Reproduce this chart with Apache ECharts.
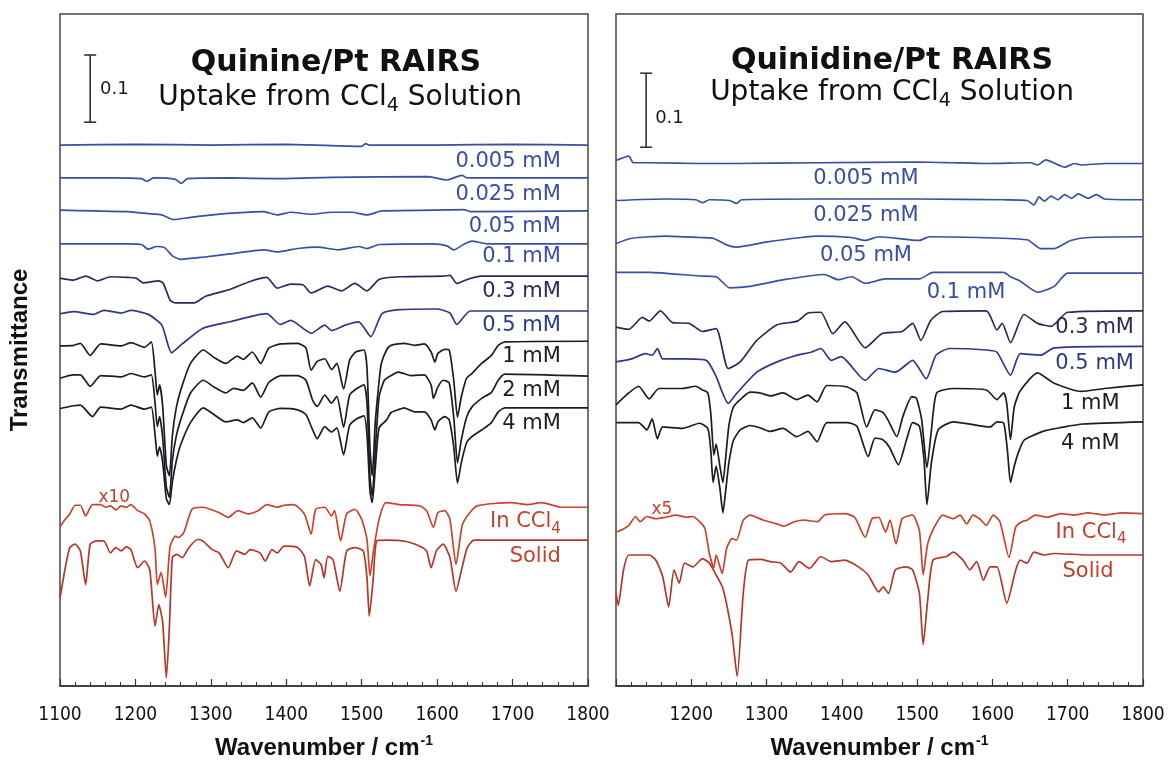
<!DOCTYPE html>
<html>
<head>
<meta charset="utf-8">
<script src="https://cdn.jsdelivr.net/npm/echarts@6/dist/echarts.min.js"></script>
<style>
html, body { margin: 0; background: #fff; }
#chart { width: 1173px; height: 767px; }
</style>
</head>
<body>
<div id="chart"></div>
<script>
// spectra as [wavenumber, change from the trace baseline] in 0.001 transmittance units
// quinine panel (left)
var qn005 = [[1100,0],[1200,1],[1300,0],[1400,1],[1500,-2],[1505,2],[1510,0],[1600,0],[1700,1],[1800,0]];
var qn025 = [[1100,0],[1167,0],[1208,-1],[1215,-5],[1224,0],[1253,-2],[1261,-8],[1269,-1],[1325,0],[1388,-1],[1460,1],[1588,2],[1613,-3],[1633,4],[1640,0],[1800,0]];
var qn050 = [[1100,1],[1145,0],[1190,-1],[1217,-4],[1235,-6],[1251,-13],[1271,-10],[1302,-6],[1334,-3],[1370,-1],[1388,-6],[1406,-2],[1433,-5],[1460,-2],[1487,-2],[1507,-6],[1527,0],[1595,1],[1635,2],[1644,-1],[1800,0]];
var qn100 = [[1100,0],[1190,0],[1208,-1],[1217,-8],[1228,-4],[1239,-6],[1249,-18],[1260,-23],[1289,-20],[1325,-15],[1370,-9],[1388,-12],[1415,-7],[1442,-5],[1469,-9],[1496,-4],[1507,-7],[1523,-1],[1595,0],[1613,-3],[1622,-9],[1635,-1],[1646,4],[1667,0],[1800,0]];
var qn300 = [[1100,-3],[1118,-6],[1134,0],[1150,-7],[1167,-1],[1190,-2],[1201,-3],[1210,-10],[1231,-7],[1237,-11],[1246,-36],[1253,-40],[1278,-40],[1293,-30],[1325,-20],[1352,-8],[1374,-2],[1388,-18],[1406,-12],[1422,-13],[1433,-25],[1455,-15],[1473,-22],[1491,-11],[1507,-22],[1523,-5],[1550,-1],[1608,0],[1617,1],[1626,-11],[1640,-5],[1658,0],[1800,0]];
var qn500 = [[1100,-4],[1118,-1],[1145,-5],[1158,1],[1181,-3],[1194,1],[1217,-5],[1235,-21],[1248,-62],[1262,-49],[1289,-26],[1325,-16],[1374,-4],[1392,-20],[1406,-14],[1433,-33],[1451,-21],[1460,-29],[1478,-21],[1496,-16],[1512,-38],[1527,-4],[1550,2],[1600,3],[1617,-3],[1626,-20],[1644,0],[1800,0]];
var qn1mM = [[1100,-7],[1118,-6],[1127,-3],[1140,-21],[1154,-4],[1181,-7],[1194,-2],[1212,-9],[1221,-1],[1226,-45],[1229,-80],[1232,-65],[1236,-95],[1241,-185],[1245,-200],[1249,-140],[1254,-100],[1260,-73],[1273,-33],[1290,-13],[1304,-24],[1320,-33],[1335,-22],[1343,-27],[1355,-16],[1366,-33],[1377,-10],[1393,-4],[1415,-3],[1426,-10],[1433,-43],[1441,-30],[1451,-26],[1460,-42],[1467,-33],[1476,-71],[1484,-28],[1492,-16],[1503,-13],[1507,-40],[1511,-160],[1514,-200],[1518,-120],[1523,-60],[1526,-33],[1533,-13],[1539,-6],[1548,-4],[1556,-3],[1570,-6],[1583,-4],[1592,-16],[1597,-31],[1601,-18],[1610,-12],[1616,-13],[1622,-58],[1627,-113],[1632,-83],[1639,-55],[1646,-48],[1659,-33],[1672,-21],[1681,-6],[1690,-1],[1800,0]];
var qn2mM = [[1100,-3],[1118,2],[1127,2],[1140,-15],[1154,1],[1181,-1],[1194,4],[1212,-1],[1221,2],[1226,-40],[1229,-75],[1232,-60],[1236,-90],[1241,-165],[1245,-180],[1249,-125],[1254,-90],[1260,-65],[1273,-25],[1290,-6],[1304,-16],[1320,-25],[1330,-18],[1343,-21],[1355,-10],[1366,-31],[1377,-9],[1393,1],[1415,1],[1426,-6],[1435,-36],[1441,-45],[1451,-28],[1460,-40],[1467,-30],[1476,-76],[1484,-28],[1494,-18],[1503,-13],[1507,-40],[1511,-150],[1514,-178],[1518,-110],[1523,-31],[1530,-6],[1539,1],[1548,6],[1556,4],[1565,1],[1583,2],[1592,-13],[1595,-33],[1601,-16],[1608,-6],[1616,-10],[1622,-61],[1627,-129],[1632,-95],[1639,-61],[1646,-46],[1659,-33],[1672,-24],[1681,-6],[1690,3],[1800,0]];
var qn4mM = [[1100,-1],[1118,3],[1127,4],[1143,-13],[1154,1],[1181,-2],[1194,4],[1212,-2],[1221,1],[1226,-40],[1229,-72],[1232,-58],[1236,-80],[1241,-135],[1245,-144],[1249,-110],[1254,-80],[1260,-55],[1273,-22],[1290,0],[1304,-10],[1320,-21],[1335,-18],[1343,-22],[1355,-15],[1366,-30],[1377,-6],[1393,-1],[1415,-3],[1426,-10],[1435,-33],[1441,-46],[1451,-28],[1460,-36],[1467,-30],[1476,-70],[1484,-26],[1494,-16],[1503,-12],[1507,-40],[1511,-125],[1514,-141],[1518,-90],[1523,-30],[1533,-18],[1539,-7],[1548,-3],[1556,0],[1570,-6],[1583,-6],[1592,-18],[1597,-33],[1601,-21],[1610,-13],[1616,-18],[1622,-58],[1627,-112],[1632,-82],[1639,-52],[1646,-43],[1659,-33],[1672,-22],[1681,-6],[1690,0],[1800,0]];
var qnCCl4 = [[1100,-29],[1107,-18],[1113,-10],[1120,3],[1127,3],[1134,-13],[1143,4],[1154,4],[1161,0],[1167,2],[1174,-4],[1181,2],[1188,0],[1194,4],[1203,-5],[1212,-10],[1219,-20],[1226,-62],[1229,-115],[1234,-97],[1240,-134],[1246,-58],[1253,-43],[1257,-45],[1264,-38],[1275,-3],[1289,0],[1311,-8],[1323,-15],[1336,-5],[1350,-10],[1363,-5],[1374,4],[1388,0],[1397,3],[1410,4],[1424,-10],[1433,-40],[1439,-3],[1451,0],[1460,-13],[1464,-5],[1472,-50],[1480,-10],[1491,-3],[1500,-18],[1507,-48],[1511,-102],[1516,-62],[1523,-18],[1532,7],[1550,4],[1577,2],[1586,-5],[1595,-30],[1601,-8],[1610,-5],[1617,-18],[1625,-85],[1633,-28],[1640,-13],[1653,2],[1698,7],[1720,4],[1738,7],[1765,0],[1800,0]];
var qnSolid = [[1100,-86],[1107,-41],[1113,-11],[1120,-6],[1127,-16],[1134,-66],[1140,-6],[1149,-1],[1158,-1],[1167,-19],[1174,-11],[1181,-16],[1188,-10],[1194,-14],[1203,-41],[1212,-31],[1219,-44],[1226,-128],[1231,-96],[1236,-121],[1241,-205],[1245,-130],[1249,-26],[1255,-21],[1262,-26],[1271,-11],[1282,1],[1289,-1],[1302,-14],[1311,-19],[1323,-41],[1334,-16],[1345,-21],[1352,-14],[1365,-19],[1372,-31],[1381,-14],[1388,-19],[1397,-9],[1415,-11],[1424,-24],[1431,-68],[1439,-29],[1446,-36],[1450,-56],[1455,-24],[1462,-29],[1471,-76],[1480,-16],[1491,-11],[1502,-16],[1507,-56],[1510,-113],[1515,-61],[1520,-1],[1532,0],[1559,-2],[1577,-9],[1586,-16],[1592,-41],[1599,-16],[1608,-6],[1617,-26],[1625,-76],[1633,-41],[1640,-11],[1649,0],[1800,0]];

// quinidine panel (right)
var qd005 = [[1100,4],[1117,10],[1123,1],[1144,1],[1211,0],[1256,0],[1368,1],[1503,2],[1548,1],[1592,0],[1651,1],[1660,-2],[1671,5],[1696,-5],[1709,0],[1718,-2],[1750,0],[1800,0]];
var qd025 = [[1100,-1],[1166,1],[1206,0],[1215,-4],[1224,0],[1251,-1],[1260,-5],[1267,0],[1368,1],[1503,1],[1615,0],[1646,-1],[1655,-7],[1662,4],[1669,-2],[1678,5],[1687,0],[1696,7],[1705,2],[1714,8],[1727,2],[1738,7],[1749,1],[1800,0]];
var qd050 = [[1100,-9],[1121,-2],[1166,1],[1211,-1],[1229,-2],[1247,-11],[1260,-14],[1301,-7],[1346,-1],[1368,1],[1413,-1],[1431,-5],[1449,0],[1503,-5],[1516,0],[1646,-4],[1664,-16],[1682,-16],[1704,-5],[1727,-1],[1800,0]];
var qd100 = [[1100,1],[1144,1],[1211,-4],[1233,-5],[1251,-20],[1278,-18],[1323,-9],[1377,-2],[1395,-9],[1413,-5],[1431,-14],[1458,-8],[1503,-8],[1521,1],[1615,1],[1624,-5],[1637,-11],[1660,-26],[1682,-18],[1700,0],[1800,0]];
var qd300 = [[1100,-22],[1117,-25],[1135,-9],[1144,-14],[1159,0],[1175,-16],[1197,-17],[1215,-28],[1233,-24],[1249,-78],[1265,-69],[1287,-40],[1314,-19],[1341,-14],[1355,-3],[1372,-2],[1388,-31],[1404,-15],[1431,-50],[1453,-31],[1480,-28],[1494,-17],[1505,-40],[1518,-13],[1534,-1],[1592,0],[1606,-26],[1613,-17],[1624,-43],[1642,-5],[1660,-17],[1678,-21],[1700,-2],[1800,0]];
var qd500 = [[1100,-21],[1121,-17],[1139,-10],[1148,-12],[1155,-3],[1162,-17],[1188,-17],[1220,-19],[1233,-41],[1249,-77],[1260,-64],[1287,-35],[1314,-21],[1341,-12],[1359,-8],[1372,-3],[1386,-19],[1399,-14],[1431,-46],[1449,-30],[1471,-35],[1494,-19],[1512,-44],[1525,-12],[1543,-3],[1592,-5],[1606,-8],[1624,-39],[1637,-10],[1664,-12],[1682,-2],[1800,0]];
var qd1mM = [[1100,-27],[1117,-11],[1130,-2],[1144,-19],[1157,-5],[1188,-5],[1206,-2],[1215,-7],[1222,-11],[1226,-40],[1230,-95],[1233,-80],[1238,-110],[1242,-132],[1246,-95],[1250,-55],[1256,-30],[1265,-20],[1278,-10],[1291,-11],[1305,-15],[1322,-11],[1340,-20],[1355,-14],[1367,-23],[1380,-1],[1407,-3],[1420,-11],[1433,-57],[1444,-34],[1454,-37],[1461,-47],[1473,-70],[1481,-43],[1493,-16],[1499,-18],[1506,-47],[1513,-112],[1519,-61],[1526,-11],[1548,-5],[1592,-7],[1606,-20],[1615,-11],[1619,-25],[1624,-74],[1629,-30],[1637,-8],[1660,16],[1682,2],[1718,-9],[1749,-5],[1800,0]];
var qd4mM = [[1100,-1],[1130,-1],[1141,-11],[1148,4],[1155,-23],[1162,-7],[1188,-9],[1211,-2],[1222,-9],[1226,-40],[1229,-82],[1233,-60],[1238,-90],[1242,-123],[1246,-90],[1250,-55],[1256,-25],[1265,-11],[1278,-5],[1291,-8],[1304,-13],[1322,-9],[1340,-20],[1355,-13],[1367,-27],[1380,-1],[1407,-1],[1420,-6],[1435,-47],[1444,-22],[1454,-24],[1463,-34],[1475,-58],[1486,-24],[1494,-1],[1503,-6],[1509,-50],[1513,-112],[1519,-55],[1528,-11],[1548,0],[1597,-7],[1606,0],[1615,-2],[1620,-40],[1624,-82],[1629,-60],[1635,-40],[1642,-25],[1655,-18],[1670,-12],[1690,-8],[1720,-3],[1800,0]];
var qdCCl4 = [[1100,-25],[1108,-22],[1117,-16],[1126,-4],[1132,-11],[1141,-4],[1153,-7],[1166,-5],[1180,-2],[1193,-5],[1202,-4],[1211,-11],[1218,-20],[1224,-54],[1230,-73],[1233,-56],[1241,-81],[1247,-47],[1254,-34],[1260,-36],[1269,-9],[1278,-2],[1296,-9],[1314,-14],[1323,-17],[1337,-11],[1350,-9],[1368,-11],[1377,-2],[1404,0],[1417,-5],[1431,-32],[1440,-7],[1449,-5],[1458,-25],[1464,-9],[1472,-41],[1480,-7],[1494,-2],[1503,-23],[1508,-83],[1514,-41],[1523,-18],[1534,-2],[1548,-7],[1557,-2],[1566,-14],[1574,-2],[1583,-7],[1592,-16],[1601,-2],[1610,-11],[1622,-59],[1631,-18],[1639,-11],[1646,-9],[1657,-2],[1673,-5],[1691,0],[1709,-2],[1727,1],[1749,-2],[1772,1],[1800,0]];
var qdSolid = [[1100,-52],[1103,-68],[1110,-20],[1117,0],[1144,0],[1153,-7],[1162,-29],[1170,-70],[1177,-20],[1184,-38],[1191,-11],[1202,-16],[1215,-5],[1224,-11],[1233,-27],[1242,-45],[1254,-106],[1261,-164],[1269,-52],[1276,-7],[1292,-6],[1305,-9],[1319,-11],[1332,-23],[1343,-9],[1357,-18],[1372,-2],[1386,-9],[1404,-7],[1422,-16],[1435,-27],[1449,-50],[1455,-43],[1462,-52],[1471,-20],[1485,-16],[1494,-20],[1503,-52],[1508,-121],[1514,-61],[1521,-7],[1539,-2],[1548,4],[1561,-7],[1570,-20],[1579,-9],[1588,-34],[1597,-16],[1606,-16],[1619,-65],[1631,-20],[1637,-7],[1646,-11],[1655,4],[1669,0],[1682,2],[1727,0],[1800,0]];

// trace baselines (offsets), same order as the trace lists below
var qnBase = [805, 756, 707, 658, 610, 558, 513, 461, 414, 266, 217];
var qdBase = [706, 657, 607, 558, 507, 459, 407, 357, 233, 177];

var qnNames = ['0.005 mM', '0.025 mM', '0.05 mM', '0.1 mM', '0.3 mM', '0.5 mM', '1 mM', '2 mM', '4 mM', 'In CCl4', 'Solid'];
var qdNames = ['0.005 mM', '0.025 mM', '0.05 mM', '0.1 mM', '0.3 mM', '0.5 mM', '1 mM', '4 mM', 'In CCl4', 'Solid'];

// where the trace labels sit: [wavenumber, level]
var qnLabelAt = [[1764,780],[1764,732],[1764,683],[1764,639],[1764,587],[1764,537],[1764,490],[1764,440],[1764,391],[1764,244],[1764,192]];
var qdLabelAt = [[1432,685],[1432,635],[1432,582],[1565,531],[1788,484],[1788,436],[1769,382],[1769,328],[1778,208],[1761,154]];

// 0.1 scale bars
var qnBar = [[1140,839],[1140,939]];
var qdBar = [[1140,728],[1140,828]];

var BLUE = '#3a4ea3', NAVY3 = '#262b5c', NAVY5 = '#2d3988', BLK = '#1c1c24', RED = '#c9442f', RED2 = '#b3372b';
var qnColors = [BLUE, BLUE, BLUE, BLUE, NAVY3, NAVY5, BLK, BLK, BLK, RED, RED2];
var qdColors = [BLUE, BLUE, BLUE, BLUE, NAVY3, NAVY5, BLK, BLK, RED, RED2];

var qnTraces = [qn005, qn025, qn050, qn100, qn300, qn500, qn1mM, qn2mM, qn4mM, qnCCl4, qnSolid];
var qdTraces = [qd005, qd025, qd050, qd100, qd300, qd500, qd1mM, qd4mM, qdCCl4, qdSolid];

var SANS = '"DejaVu Sans", Verdana, sans-serif';
var NARROW = '"Liberation Sans Narrow", "DejaVu Sans Condensed", "Liberation Sans", sans-serif';
var HELV = '"Liberation Sans", Arial, sans-serif';
var LABEL_RED = '#c4402d';

var chart = echarts.init(document.getElementById('chart'));

function traceSeries(traces, base, colors, idx) {
	return traces.map(function(t, i) {
		return {
			type: 'line',
			xAxisIndex: idx,
			yAxisIndex: idx,
			showSymbol: false,
			smooth: 0.2,
			silent: true,
			lineStyle: { color: colors[i], width: 1.7 },
			data: t.map(function(p) { return [p[0], base[i] + p[1]]; })
		};
	});
}

function labelText(name) {
	if(name === 'In CCl4') return '{t|In CCl}{s|4}';
	return '{t|' + name + '}';
}

function labelSeries(names, at, colors, idx, centered) {
	var data = names.map(function(n, i) {
		var c = (colors[i] === RED || colors[i] === RED2) ? LABEL_RED : colors[i];
		return {
			value: at[i],
			label: {
				position: centered[i] ? 'inside' : 'left',
				distance: 0,
				formatter: labelText(n),
				color: c,
				rich: {
					t: { fontFamily: SANS, fontSize: 21, color: c },
					s: { fontFamily: SANS, fontSize: 15, color: c, padding: [14, 0, 0, 0] }
				}
			}
		};
	});
	return {
		type: 'scatter',
		xAxisIndex: idx,
		yAxisIndex: idx,
		symbolSize: 0,
		silent: true,
		z: 5,
		itemStyle: { opacity: 1 },
		label: { show: true, opacity: 1, fontFamily: SANS, fontSize: 21 },
		data: data
	};
}

function barSeries(bar, idx) {
	return {
		type: 'line',
		xAxisIndex: idx,
		yAxisIndex: idx,
		silent: true,
		symbol: 'rect',
		symbolSize: [12, 1.6],
		showSymbol: true,
		itemStyle: { color: '#333' },
		lineStyle: { color: '#333', width: 1.6 },
		data: bar
	};
}

// small loose texts: scale value and multipliers
function noteSeries(items, idx) {
	return {
		type: 'scatter',
		xAxisIndex: idx,
		yAxisIndex: idx,
		symbolSize: 0,
		silent: true,
		itemStyle: { opacity: 1 },
		label: { show: true, opacity: 1, fontFamily: SANS },
		data: items
	};
}

function xAxisOf(idx) {
	return {
		gridIndex: idx,
		type: 'value',
		min: 1100,
		max: 1800,
		interval: 100,
		splitLine: { show: false },
		axisLine: { show: true, lineStyle: { color: '#333', width: 1.5 } },
		axisTick: { show: true, inside: true, length: 7, lineStyle: { color: '#333', width: 1.2 } },
		minorTick: { show: true, splitNumber: 5, length: 4, lineStyle: { color: '#333', width: 1 } },
		axisLabel: {
			margin: 20,
			fontFamily: NARROW,
			fontSize: 19,
			color: '#111',
			formatter: function(v) { return (idx === 1 && v === 1100) ? '' : String(v); }
		},
		name: '{b|Wavenumber / cm}{sup|-1}',
		nameLocation: 'middle',
		nameGap: 48,
		nameTextStyle: {
			rich: {
				b: { fontFamily: HELV, fontWeight: 'bold', fontSize: 24, color: '#111' },
				sup: { fontFamily: HELV, fontWeight: 'bold', fontSize: 14, color: '#111', padding: [0, 0, 14, 1] }
			}
		}
	};
}

var subRich = { s: { fontFamily: SANS, fontSize: 19, padding: [17, 0, 0, 0] } };

var option = {
	animation: false,
	backgroundColor: '#fff',
	grid: [
		{ left: 60, right: 585, top: 14, bottom: 81, show: true, borderColor: '#444', borderWidth: 1.5 },
		{ left: 616, right: 30, top: 14, bottom: 81, show: true, borderColor: '#444', borderWidth: 1.5 }
	],
	xAxis: [xAxisOf(0), xAxisOf(1)],
	yAxis: [
		{
			gridIndex: 0, type: 'value', min: 0, max: 1000,
			axisLine: { show: false }, axisTick: { show: false }, axisLabel: { show: false }, splitLine: { show: false },
			name: 'Transmittance', nameLocation: 'middle', nameRotate: 90, nameGap: 28,
			nameTextStyle: { fontFamily: HELV, fontWeight: 'bold', fontSize: 24, color: '#111' }
		},
		{
			gridIndex: 1, type: 'value', min: 0, max: 908,
			axisLine: { show: false }, axisTick: { show: false }, axisLabel: { show: false }, splitLine: { show: false }
		}
	],
	graphic: [
		{ type: 'text', x: 336, y: 63, style: { text: 'Quinine/Pt RAIRS', font: 'bold 30px ' + SANS, fill: '#111', align: 'center', verticalAlign: 'middle', textAlign: 'center', textVerticalAlign: 'middle' } },
		{ type: 'text', x: 340, y: 98, style: { text: 'Uptake from CCl{s|4} Solution', fontFamily: SANS, fontSize: 28, fill: '#111', align: 'center', verticalAlign: 'middle', textAlign: 'center', textVerticalAlign: 'middle', rich: subRich } },
		{ type: 'text', x: 892, y: 61, style: { text: 'Quinidine/Pt RAIRS', font: 'bold 30px ' + SANS, fill: '#111', align: 'center', verticalAlign: 'middle', textAlign: 'center', textVerticalAlign: 'middle' } },
		{ type: 'text', x: 892, y: 93, style: { text: 'Uptake from CCl{s|4} Solution', fontFamily: SANS, fontSize: 28, fill: '#111', align: 'center', verticalAlign: 'middle', textAlign: 'center', textVerticalAlign: 'middle', rich: subRich } }
	],
	series: []
		.concat(traceSeries(qnTraces, qnBase, qnColors, 0))
		.concat(traceSeries(qdTraces, qdBase, qdColors, 1))
		.concat([
			labelSeries(qnNames, qnLabelAt, qnColors, 0, qnNames.map(function() { return false; })),
			labelSeries(qdNames, qdLabelAt, qdColors, 1, [true, true, true, true, false, false, false, false, false, false]),
			barSeries(qnBar, 0),
			barSeries(qdBar, 1),
			noteSeries([
				{ value: [1153, 888], label: { position: 'right', distance: 0, formatter: '0.1', fontSize: 18, color: '#1a1a1a' } },
				{ value: [1172, 281], label: { position: 'inside', formatter: 'x10', fontSize: 17, color: LABEL_RED } }
			], 0),
			noteSeries([
				{ value: [1152, 767], label: { position: 'right', distance: 0, formatter: '0.1', fontSize: 18, color: '#1a1a1a' } },
				{ value: [1161, 239], label: { position: 'inside', formatter: 'x5', fontSize: 17, color: LABEL_RED } }
			], 1)
		])
};

chart.setOption(option);
</script>
</body>
</html>
